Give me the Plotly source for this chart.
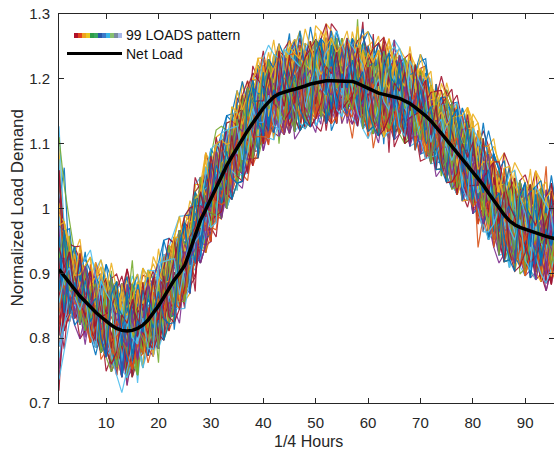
import plotly.graph_objects as go

hours = list(range(1, 97))

net_load = [0.906, 0.895, 0.885, 0.875, 0.865, 0.856, 0.848, 0.840, 0.833, 0.826,
            0.820, 0.815, 0.812, 0.811, 0.812, 0.815, 0.820, 0.828, 0.838, 0.850,
            0.863, 0.877, 0.890, 0.900, 0.912, 0.935, 0.960, 0.982, 0.998, 1.015,
            1.033, 1.050, 1.066, 1.080, 1.094, 1.108, 1.120, 1.132, 1.144, 1.155,
            1.164, 1.172, 1.177, 1.180, 1.182, 1.184, 1.186, 1.189, 1.192, 1.194,
            1.196, 1.197, 1.197, 1.197, 1.197, 1.197, 1.196, 1.193, 1.189, 1.185,
            1.181, 1.178, 1.176, 1.174, 1.172, 1.170, 1.166, 1.162, 1.156, 1.150,
            1.143, 1.135, 1.126, 1.116, 1.106, 1.096, 1.087, 1.078, 1.068, 1.058,
            1.048, 1.036, 1.024, 1.012, 1.000, 0.990, 0.981, 0.975, 0.971, 0.968,
            0.965, 0.962, 0.959, 0.957, 0.955, 0.953]

spread = [0.017, 0.014, 0.012, 0.011, 0.011, 0.011, 0.011, 0.011, 0.011, 0.011,
          0.012, 0.012, 0.012, 0.012, 0.012, 0.012, 0.011, 0.011, 0.011, 0.011,
          0.011, 0.011, 0.011, 0.011, 0.011, 0.011, 0.011, 0.011, 0.011, 0.011,
          0.011, 0.011, 0.011, 0.011, 0.011, 0.011, 0.011, 0.011, 0.011, 0.011,
          0.011, 0.011, 0.011, 0.011, 0.011, 0.011, 0.011, 0.011, 0.011, 0.011,
          0.011, 0.011, 0.011, 0.011, 0.011, 0.011, 0.011, 0.011, 0.011, 0.011,
          0.011, 0.011, 0.011, 0.011, 0.011, 0.011, 0.011, 0.011, 0.011, 0.011,
          0.011, 0.011, 0.011, 0.011, 0.011, 0.011, 0.011, 0.011, 0.011, 0.011,
          0.012, 0.012, 0.012, 0.012, 0.012, 0.012, 0.012, 0.012, 0.012, 0.012,
          0.012, 0.012, 0.012, 0.012, 0.012, 0.012]

# 99 load patterns: each letter is the deviation of one quarter-hour from the net load
# ('l' = on the net load, each letter step = one spread unit)
loads_code = [
"ukhmqjgonr fkpimhqlgn jrekmoihps glknrjfmqh ogkptijmrh lnegqkjmpi glorhnkqfj mlpgirkmhs lqjngokrmh ipfkqnjlmo kqhmjl",
"fjlqhnkmgp irlekqnhmj qgolikrfnm phjqlgokri mhnpjfqlkg iormhjnqle kpmigjrnhl qkoimfjpkn hlqgmrikjn pkhogmqlie sjkmpl",
"wnqjlhpkmg rikfnlqhjm opgklirnhq jfkmplgnri hjqokmflpn igkrmjhlqn fpkiojmgrl hknqipjmgl khrnoqjfim pglknhqrjm olihkn",
"cihmkgqnlj pfkrhmognq ilkjmphrgf nlqkjiomhg rnlpkqjimh fngolkqjri phmklngjqf omikprhlnj gmkqoilhrj nfpmkhliqo gnrkjm",
"qmjhnlpkrg ikqmfonhlj pgrkimqohn kjlfpmirgh kqnjolmihp grkfnlqjmi okhplgnrjq fkmhpiongl kqjrhmfpil ngokjmqlhn rpgikm",
"nmopqoomlk jhjlmnoqrq pnomkjgijk lmnmoppqpn nmlkljikmm nopqprqoon mlkjkihjjk lmooprqqsq ponmlkjjkl mnoqpqqpon mlkjkl",
"hdkmqnjlpi grkmfolqhn jpkgmriolf nqjhkpmgir lnqfjokmhp grinljqkmf ophlngjrkq imohlpgnjf rkmiqhlnpj gkomlrhiqk njfpmg",
"rxnlqjhmkp goinrlfjqm hkpnigrloj mqhknfpilg mrjqokhnlp gimfrkjnqh loepkmgrji nhqlfpokmj hnrigqlkmj pfomkiqhln grjpkm",
"mflkjqpihn grmolkjpqf ihnmkglroq jhmpnilfkg rjqhomlnkp gifmrjlhnq okpgimjrfn lhkqopgmij nhlrkqfpmg joikmhnlqp rgjkmo",
"kqgnjmhrlp fikqonmjhg rlpkinqfom jhlkrpgnmi qjhfoklnpr migjkqhnlf opmrkgiqnj lhmporfkgi qnlhjmpkri gfoqmjlnhk prigmo",
"bgljnqhmkr iopfglnjqm hkpirflgon jmqkhpirlg nmjfqokhpg lrinkmjqho fplgnkrimq jhlpgnfkom riqjhlnpkg mofkqjnhlp imgrkl",
"lohqnkjmgr piflnqhkmo jgrplnqifk hmpjgroiln kqmhfjpgrl noikmqhjpg flnrkqimoh jglpnrfkqm ihjgonlprk mqfhkjlong ipmrqk",
"ipmkhqjnlg roipfkmhnq jlgrkpiofm nhqjlgrkpi mhonfqljgk rpinmhljqo fgknrpimhj qlngkoflrp mqihjngklp ofrmkjnhql gipokm",
"tgkjnmqlhp rifokgmjnl hqprigkmof njlqhrpkig mljnfoqhkp mrgilnjkqh ofmplgnrij kqhmlopfgn rkjqimhlpo ginfmkrjlh qpogkm",
"tplqjnhkmg roifklpnjq hmgrklifon pjhqmgrlki nfpojqhmkg lrinpqjmhf oklgnprqij mhlkogfnrp jqmihklgon prfmjqklhn ogirpk",
"nhqkjlmpgi ofrknhlqjm pgirnkohfl qjmpgrkinl hqojfmpkgl nrihqjmkop flgnrjiqhm kplgonfrjq ikmhpglnok rjfmqnlhko pigrjm",
"eilmkqjhnp grofklmjhq npigrklofm jnhqpgirlk mnjofqhpkg lrimnjqhpo fkglnrijmq hkplgofnrj kqmihlpgno jrfmkqlhnp oigkrm",
"pkmjhnlqrg iofpkmnljh qrpgikmfon ljqhprgkim lnjofhqpmk grilnqjhpo fmkglrnqij hmpkglofnr jqmihkplgo nrfqkmjlho pignrk",
"lnjqkhmpgo irfnlkqjmh pgrilnkofq jmhpgrkilm njqfohpkmg lrinqjhkpo fmglnrjqik mhlpgofnkr jqmihpklgo nrfmjkqhln opgirm",
"srqrpqsrtq pqrpsqtrqp onqprqsrqp opnqprqspq rosqprtqpo nmponqoprq psqrtsqrpq opqnrqpsrq ponoqmpnqo pnrqpsqrpn oqprqs",
"ihgjfhigke hjgifhkgjf ihgkhjfigh ejgihkfhgj igfhkjgihf ehjgkifhjg ihfgjkhgie fhjgihkgfj higjfkhgih jfgehkigjh fgikhj",
"mrkhqnjplg oikrmfqhnl pjgmkriohn qljfpmkgri nhqojlpfkm grihnqjomk lpfgrnhiqj mkolpgfnrh jqimkplgon hrfjqmkinl pgohrk",
"jqnlhkpmog rifjnqlkhm pgoirnkjlq hfmpgokrin jlqhmpfkgo rnijqlhkmp goifrnjlqk hmpogkfirn jqlhmkpgoi nrfjqhmlkp ogirnj",
"oglnqjkhmp rfigonkqlj hmprgfikon qljhmpgrki nfqojlhmkp grinfqojlk hmpgirnfkq ojlhmpgkir nfqjolhkmp girnfqkjlo hmpgri",
"kmhpjqglnr ifokmpjhql grnkifmoph jlqgkrnimf hopjklqgmr nihfkojpql mgrhnkifpo jmlqhgkrnp iofmjkhlqp grnifkomjh lpqgrk",
"qhkmjnolpg rikmhfqnjl opkgmirhqn lfjokpmgri hnlqjfkopm grihnlkqjm fpogkrinhl jmqfkpolgr hinmjkqlpf ogrihmnkjq lpfogr",
"fhjlnkimgk hjlgifkhmj gliknhjfgm ikhljgfkim hjgklinfhj mkgilhjfkn gihljmkfgi hjlkgnifhm jkglihfjkm gilhkjfgnm hikjlg",
"lpnrqomsqp rnotqpsrnq oprmsqontp rqomspnrqt opnrsqmopr qntspormqn pstrqonpmr sqopnrtqmo psrnqopmrs qtnoprqsmn ropqst",
"mjnkhqlpig rkmofnjhql pgmkirnohj qlfpmkgrin hjolqmpfkg rinhjlqomk pgfirnjhlq mkopgfrinj hqlmkopgir nfjhqlmkpo girnfj",
"hqjmlkpnig ormfkhqjln pmgrkiohnl qjfmpkgrin lhqjomkpfg lrinhqjmok dhkgjmolnq pirkmgjhol qnkpjfgmri olhknqjmpf igrkol",
"tqolrmpsnq okrplqnsmo pqrtnolpqm sronqpkmrs qoplnrtmqo psnrlqpomr snqtolpmrq snoplqrmtp onqsrmplqo ntrpsqmolr qpnmos",
"gikhjflhig kjhmiljgkh fjilgkhmjg ikfhljgkim hjgflikhjm gkilfhjgki mlhjfgikhl jmgkifhjlg kimhfjlgki hjmfglikhj gkilmh",
"nokmqjplhr gimoukjpld rhgmoinkqp jlhsgmoikn qpelhgrmok inqpljhugm okinqpjlhr mgokfnqplj hrgmoikqnp jlhgrmokin qpjlrh",
"vlkphmqjno gkirmelphq njokgrimlh pqjkonmgri lhpfkqnjmo grilhkpqjn omfgkrilhp qjnmokgirh lpfqjnomkg irlhpqjnok mgrilh",
"jhmqnlkpgi rjohmknqlf pigrhjmonk lqpigfrjhm oknlqpgirj hfmoknlqpi tgskhmplir qohjlnskgm pjiqlfnhor kmjgsplihq nkfoml",
"kkmnjolmpi qhknlrjmpg oiklqnhmjp rgkolinmqh jpklognrmi hqjlnpkmgo rlijnqhmpk olgjnrimqk phlojnmgkr iqplhjnmko gqripl",
"ilnhpkjqmg olriknhqjp mfgkolrhin jpmqkhglor ijnkmphqlg rfoikjnmhq plgrkoijhm nqplfgkrio hjmnqkplgr oihjnkmqpl fgrkoh",
"qprnoqsmpr oqnspmrqot npqrmosqpn rqopmtnrqp sonqmrpoqs nprqomspnq rtopqmnsrq poqnrmspoq pnrtqosmpn qrpomsnqpr oqmsnp",
"ehigfjhkgi fhjeigkhfj gihekfjhig kfhjgeihkf jgihfkjhge ifkhjgfihk gejhfikgjh fieghkjfig hkjfegihjk fgiehjkgfi hjkegf",
"mkqhnjpgol irkmfqhnlj opgkimrhqn ljfokpmgri nhlqjfkopm grihnlkqjm fpogkrinhl jmqfkpolgr hinmjkqlpf ogrihmnkjq lpfogr",
"yqmkhnpjlg rioqkmfnhl jpgkrimohq nljfkpmgri hnoljqkpmf grihnqljok mpgfrinhjl qkompgfrin hjlqkmopgf rinhjlqkmo pgfrin",
"ajkmhlngqi pkrojmhnlg qipkfrmjoh lnqkgipmrj fohlnskgip mejfqhlnuk gipdrjfohl nqkgsrmjpf ohlnqkgipm rjflohnqkg ipmrjf",
"lmnkjihjkl mnpqrpoqnm lkjhiklmop qrsqpnmlkj ijlmnopqpo nmlkjhijkm oprqpomlkj hijkmnpqrq ponmkjiijk lmopqrponm lkjijl",
"qnhmkjrlpg oinfkqmhjl rpgoiknmqh fjlrpgeink mqsfjlrpgo ikmnqhdjlr pgoitmnqhf jlrpgoikmn chfjlrpgoi kmnuhfjlrp goikmn",
"hkmpjqgnli orkfmhpjqn gliokrmhjp nqflgikomr jhpnqklgfi morjhpkqnl gifmorkjhp nqlgikfmro jhqpnlkgim forjhkpqnl gimofr",
"pjlnkhmqgi rojpkmlnhf qgirjomkpl hnqfgirjsm kplhnefgir jomkplhnqf girjtmkplh nqfgirjomk plhnqfgirj omkplhnqfg irjomk",
"mphkqjnlgi skmoifrjhn lqpkgmjhro nliqfkpmhj gronlkqimp hfjgkrnolm qiphkjfgnr mlqokjhpig nrfmlkqjop hignkrlmfq jophik",
"ngkrmjplhq oifmknjrgl phqomikfnj lrgqphmkoi jnflrgkqmp hiojnlgfrk mqphijonlk grfmqhpjoi knlgrmfqhp jkoinlgrmf qhpjko",
"rmpkojlnqh gimkqhnrlo jfpgmkirnh qlojmpfkgi rnhqjlmoki pgfrhnjqlk moipgrfkhn jqlmokpigr hfnqjlkmop igrhfnjqkl mopigr",
"lqnjhmkpgr oilfnqjkhm kjnpqmrlhg iqmokhnjpl gkrmhqoinj pfhkmlqigr nojkphlmqf girkonjhlm qpfkgimrhn ojlqkpmgih frnkjo",
"gjmhlkinfh jgkmilhjfn kgihmjlkfg hinkjmglhi fkjhnmgilk jhfgmkinlj hgkifmjlhn gkjimhflkg jinhmkgjlf ihkgmnjlih gfkmjl",
"prnqtompsq rnpoqmtrsp nqorpmsqtn oprqnmspor qtnpsomrqp ntsqormpqn rsptqonmrp sqontrpqms nopqrtmsnp oqrsnptmoq rpsnqt",
"kjmlnhoipg qkrmjlhnfo ikgpmrqjhl nfoikmgrjp qlhknmoifg jrqplmhkin gofrjqlpmk hingojfrmq kplhinjgom rfqkpilhnj mgokrq",
"xvtqnmkjhg fhjlmpqsqn mkihgjlnpr tsqomkigfh jlnprqomki hgijlmoprq onljhgfhjk mopqsrpnlk jihgijlnpq rqomkjhgfg ikmoqs",
"bdgjlmnopo nmlkjklmnp qrstsrqpon mlkjihijkl mnopqrqpon mlkjijklmn opqrsrqpon mlkjkjklmn opqrqponml kjijklmnop qrqpon",
"mnhqkjlpgi romkhqnjlf kgprimqohj lnfkqpmgir jhoklnqmfp gihrjomknl qfpighrkmj onlqkfpgmi rhjoknlmqf pgirhjkonm lqfpgi",
"jpmlqknhig orfjmkplqh nhgqimkrjo lpfkhngqmi jorkplhmgn qfikjormlh pgnkqijfmo rlhkpgnjqm iofrkhlpgj nqmoikfrhl pjgnqm",
"hlkjnmigkh jlimkgjhnl kigmjhlkin gjmhkilnjg hkmijlgnkh imjglkhinm jgkhlimjnk gihljmkgni hjlkmgijnh kglimjkhng ljimkh",
"qmpkrnoqsl pmrqnotpql mrpnqsomrp qnloqrpmts nqprolmqnp srqonpmrql optnqrmspo qlnrpqmotr snpqlomrqp ntsqrpoqml nrpqos",
"kgmiqnhrjl opfkgmiqnh jlqmokrigp hnfjlmqkoi rpgnhjmkql ifogrnkhjp mlqkignrof hjpmlkqgin orhfjlkmqp ginohrkjlm fqpkgi",
"nqjlphmkgi orjnkflqhm pgirolkjnh qmfpgkirol jnhmqpkfgi rlojnhkmqp gfirlkjonh mqpgkfilro njhkqmpgif rklojnhmqp gkfirl",
"iknmjhqlpg rkoimjnlfh pqkgimolrj hnmqfkpgio jrlnkmhqpf giorljkmnh qpfgkrimoj nlhqkfpmgi orjlnhmkqp gfikorjmln hqkpgf",
"fmkhjlignk hmjflkigjh nkmlhijfgk lmhjnikgfl hjmkigljhn kfmhijlkgm hnjkilfghm kjlinhgkmj flihkgmjnl hikfgjmlhk nijgmf",
"oqsnprqmot rpqsnoqrpm tsqonprqms pnoqrtpmsq onrpqsmotp rqnspoqmrt snpqorpmqs tnoqprsmqo nptrqosmpn qrpomsqtnr opqsmn",
"lkjmnoqpon mlkjihhijk lmnopqrqpo nmlkjiijkl mnopqqpomn lkjiijklmn oppqponmlk jihijklmno pqrqponmlk jiijklmnop qqponm",
"mhqkjnlpgr oimkhqjnfl jgpmrkohil nqfjmkgprh oilkqnjfmp hgrkoilmjq npfhkgrmoi jlqnphkfgm rioljkqnmh pgfkirolmj nqhpkg",
"rjnlqhkmpg oifrnqjlkm gphkomirjq lnfpkmhgqo rjlnipkfmh gqrojlnkip mfhgqkorjn lpimkfhgqr ojnlkpmihf gqkrojlnpm ihkfgq",
"jlhmkqnigp rolfjmhkqn prgkoihmlj qnfgprkimo lhjnqkfpgm iorlhjknqp fmigrkolhj nqpmkfgiro ljhnkmqpfg irolkhjnmq pgfkir",
"eghjikmnlk jigfhjlmoq rpnlkjhgik mnprqomkjh gfhjlnoqpn mljhgijlnp qrqomkihgh jlnpqpnlkj hgfhjlnoqp omkihgiknp qpnlji",
"upqrsoqnpm rsqtpnoqrm psqnrotpqm snrqopmtqs nprqmosnqp rtoqmnprsq omtnpqrsmo qnptrqomsn pqrmotsnqp rmoqsnptrq mopnsq",
"hkjgilhfjk igmhjlkgih fjkmlihgjk nhilgfjkmh igljkhfgim jlhkignjfh kmligjhkfi lnghjkimlf hgjkilmhgj fkilhngkjm ihflkg",
"nqpkmjolhr gimnkqpjol fhkrmgiqno jplhkmrfgi nqojlphkmg rinfqkojlp mhgkirnqfo plmjkhgrin oqpfkljmhg irnokqpfjl mhgirk",
"kmljnhopgi qrkmljfnho gkpimqrljh onfkgpmiqj lrhokngfpm qijlrhkonp gmfiqkjrlh nopmgkfiqr jlhkopngmf iqrjklhopm gnfkqi",
"pgknmihqjl rofkgmpnih lqjrmokfgp hinqjklmro gpfhnikqjm lrogkphfnm iqjlkrogmp hfniqkjlmr opgkhfnimq jlrkopgmhf niqjkl",
"ljmnkiopqh grjlmfnkio hpkqgmrjln ifokhpmqgj rnlkifohpm qgjnrlkhif opmqgkjnrl hfiokpmqjg nrlhkfiopm qgjnrlkhfi opmqgj",
"qkmjhnlprg ioqkmjfhnl gkpriomqhj nlfgkprimo qjhnlkgfpr iomqjhnklf pgriomkqhj nlfkpgriom qjhnlkfpgr iomqjhnlkf pgriom",
"mfhkjlnigm khjlfnimgk ijhmlgfkni hjmlkgifnj hkmlgijfhn kmlgihjfkn mlgijhkfnm lgijhkfmnl gijhkfmlng ijhkfmlngi jhkfml",
"pqornsmqpt onrpqsmoqr tpnosqrmpq onsrtpmqon rpsqmotnpr qosmpnrqto psqnmorpqt snoqrpmsqo ntprqsomnp qrsotpnmqr opsnqm",
"ijkhmlgnjk ihlmgjknih mkjlgihnkm ljgihkmnlj ghkimljnhg kimljhgnki mljhgkinml jhgkimnlhj gkimlnhjgk imlnhjgkim lnhjgk",
"rnkqmjplhg oirnkqmjpl kgqhomirnj plhkgqmoir jnhplkgqmo irjnhplkqg moirjnhlpk gqmoirjnhl pkgqmoirjn hlpkgqmoir jnhlpk",
"khmnjqlpgi rokhmnjqlf pgirokhmnj qlfpgirokh mnjqlfpgir okhmnjqlfp girokhmnjq lfpgirokhm njqlfpgiro khmnjqlfpg irokhm",
"njplqkhmgr ionjplqkhm fgrionjplq khmfgrionj plqkhmfgri onjplqkhmf grionjplqk hmfgrionjp lqkhmfgrio njplqkhmfg rionjp",
"hmkjqnlgpi rohmkjqnlf gpirohmkjq nlfgpirohm kjqnlfgpir ohmkjqnlfg pirohmkjqn lfgpirohmk jqnlfgpiro hmkjqnlfgp irohmk",
"lgqkmjnhpr iolgqkmjnh fprioldqkm jnhfprsolg qkmjnhfpri olgqkmjnhf prioegqkmj nhfprtolgq kmjnhfprio lgqkmjnhfp riolgq",
"oimkqhjlng prfoimkqhj lngprfoimk qhjlngprfo imkqhjlngp rfoimkqhjl ngprfoimkq hjlngprfoi mkqhjlngpr foimkqhjln gprfoi",
"jkhmilgjnk hmligjkfhm jlignkhmjf likghmjlni gkhfmjlikg hmnjlikghf mjlikgnhmj fliknghmjl fikgnhmjlf ikgnhmjlfi kgnhmj",
"qrpmsnoqtr pnqmrsoptq nmrqspnotq rpmsqnortp qnsmrqpont sqrpmnoqst prnmqsrpot qnmsrqpnot sqrmpnqtsr opmqnrsqpo tnrmqs",
"mnjkhlpqig omnjkhlpqr igomnjkhlp qfigomnjkh lpqfigomnj khlpqfigom njkhlpqfig omnjkhlpqf igomnjkhlp qfigomnjkh lpqfig",
"kirmhqjnlp ogkirmhqjn lpfogkirmh qjnlpfogki rmhqjnlpfo gkirmhqjnl pfogkirmhq jnlpfogkir mhqjnlpfog kirmhqjnlp fogkir",
"dgkmprtqnk hfdgjmpsrp nkhgfhknqs rpmjhgimps trqnkigfhk npqsqokhfe gjmprsqmkh fghknqsqoj hfgilorspn kigfhkmqsr pmkhgi",
"ulpnkjihlm nqspomkigh kmoqsrpnlj hgikmprsqo mkjhiknpqr pmljhijlnp rsqomkijkl npqronlkij kmoqrpnmkj hiknpqrpmk jhijmo",
"nhpkqmjlgi ronhpkqmjl fgironhpkq mjlfgironh pkqmjlfgir onhpkqmjlf gironhpkqm jlfgironhp kqmjlfgiro nhpkqmjlfg ironhp",
"hlmjkignhm jkligjhmkn ilgjhkmnil jhgkmlnjih gkmnljhigk mnjlhgikmn ljhgikmlnj hgkimlnjhg ikmnljhgik lmnjhgkiml njhgik",
"prqnoqsmrp tqonprqsmo qprtnoqpsm rqontpqrsm opqnrsptqo mnrpqsotnq prmsqontpr qsmonpqrts mopqnrsqpo tmnqrpsoqm nptrqs",
"kjnhmqlpig rokjnhmqlf pigrokjnhm qlfpigrokj nhmqlfpigr okjnhmqlfp igrokjnhmq lfpigrokjn hmqlfpigro kjnhmqlfpi grokjn",
"mqkljhnpgi romqkljhnf pgiromqklj hnfpgiromq kljhnfpgir omqkljhnfp giromqkljh nfpgiromqk ljhnfpgiro mqkljhnfpg iromqk",
"ilnkjmhgqp oilnkjmhgr qpoilnkjmh grqpoilnkj mhgrqpoiln kjmhgrqpoi lnkjmhgrqp oilnkjmhgr qpoilnkjmh grqpoilnkj mhgrqp",
"nmpkrlqjoh ginmpkrlqj ohfginmpkr lqjohfginm pkrlqjohfg inmpkrlqjo hfginmpkrl qjohfginmp krlqjohfgi nmpkrlqjoh fginmp",
"jqhmkolnig prjqhmkoln igfprjqhmk olnigfprjq hmkolnigfp rjqhmkolni gfprjqhmko lnigfprjqh mkolnigfpr jqhmkolnig fprjqh",
]

line_colors = ["#0072BD", "#D95319", "#EDB120", "#7E2F8E", "#77AC30", "#4DBEEE", "#A2142F"]
legend_icon_colors = ["#B0102A", "#E0401C", "#F0A020", "#E8C820", "#2E9E48", "#3AA860",
                      "#2856A8", "#3C78C8", "#38B4E6", "#88C070", "#7A8CA0", "#A8B8E8"]
legend_labels = ["99 LOADS pattern", "Net Load"]

x_ticks = [10, 20, 30, 40, 50, 60, 70, 80, 90]
y_ticks = [0.7, 0.8, 0.9, 1.0, 1.1, 1.2, 1.3]
y_tick_text = ["0.7", "0.8", "0.9", "1", "1.1", "1.2", "1.3"]
x_title = "1/4 Hours"
y_title = "Normalized Load Demand"


def decode(code):
    s = code.replace(" ", "")[:len(hours)]
    return [net_load[i] + (ord(ch) - ord("l")) * spread[i] for i, ch in enumerate(s)]


fig = go.Figure()
for k, code in enumerate(loads_code):
    vals = decode(code)
    fig.add_trace(go.Scatter(
        x=hours[:len(vals)], y=vals, mode="lines",
        line=dict(color=line_colors[k % len(line_colors)], width=1.2),
        opacity=0.9, hoverinfo="skip", showlegend=False))

fig.add_trace(go.Scatter(
    x=hours, y=net_load, mode="lines", name=legend_labels[1],
    line=dict(color="black", width=3.5), showlegend=False))

# ---- manual MATLAB-like legend (top-left, no box) ----
L, T, W, H = 59, 14, 495, 389  # plot area in px


def px(xp):
    return (xp - L) / W


def py(yp):
    return (T + H - yp) / H


shapes = []
seg_w = (122 - 74) / len(legend_icon_colors)
for i, c in enumerate(legend_icon_colors):
    shapes.append(dict(type="rect", xref="paper", yref="paper",
                       x0=px(74 + i * seg_w), x1=px(74 + (i + 1) * seg_w),
                       y0=py(38), y1=py(33), line=dict(width=0), fillcolor=c))
shapes.append(dict(type="line", xref="paper", yref="paper",
                   x0=px(67), x1=px(122), y0=py(53.5), y1=py(53.5),
                   line=dict(color="black", width=3)))

annotations = [
    dict(text=legend_labels[0], xref="paper", yref="paper", x=px(124), y=py(35),
         xanchor="left", yanchor="middle", showarrow=False,
         font=dict(size=14, color="#111111")),
    dict(text=legend_labels[1], xref="paper", yref="paper", x=px(124), y=py(54),
         xanchor="left", yanchor="middle", showarrow=False,
         font=dict(size=14, color="#111111")),
    dict(text=x_title, xref="paper", yref="paper", x=px(308), y=py(441.5),
         xanchor="center", yanchor="middle", showarrow=False,
         font=dict(size=16, color="#262626")),
    dict(text=y_title, xref="paper", yref="paper", x=px(16.5), y=py(208),
         xanchor="center", yanchor="middle", showarrow=False, textangle=-90,
         font=dict(size=17, color="#262626")),
]

fig.update_layout(
    width=554, height=454,
    margin=dict(l=L, r=554 - L - W, t=T, b=454 - T - H, pad=0),
    plot_bgcolor="white", paper_bgcolor="white",
    font=dict(family="Liberation Sans, Arial, sans-serif", size=15, color="#262626"),
    showlegend=False,
    shapes=shapes, annotations=annotations,
)
fig.update_xaxes(range=[1, 95.5], tickvals=x_ticks, ticks="inside", ticklen=5,
                 tickcolor="#262626", showline=True, linecolor="#262626", linewidth=1,
                 mirror="ticks", showgrid=False, zeroline=False,
                 ticklabelstandoff=6, tickfont=dict(size=15, color="#262626"))
fig.update_yaxes(range=[0.7, 1.3], tickvals=y_ticks, ticktext=y_tick_text,
                 ticks="inside", ticklen=5, tickcolor="#262626", showline=True,
                 linecolor="#262626", linewidth=1, mirror="ticks", showgrid=False,
                 zeroline=False, ticklabelstandoff=5,
                 tickfont=dict(size=15, color="#262626"))

fig.write_html("out.html", config={"displayModeBar": False},
               post_script="document.body.style.margin='0';document.body.style.overflow='hidden';")
